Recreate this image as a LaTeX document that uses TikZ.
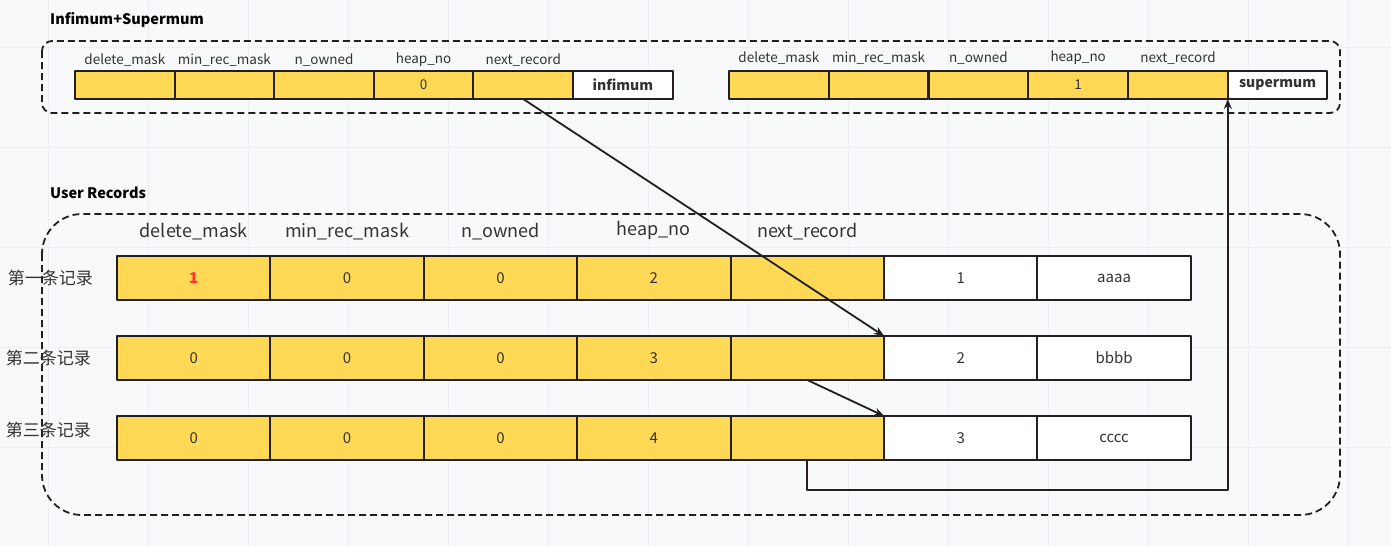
\documentclass[tikz,border=0pt]{standalone}
\usepackage{fontspec}
\setmainfont{Noto Sans CJK SC}
\usetikzlibrary{arrows.meta,positioning}
\definecolor{keyfill}{HTML}{FFD955}
\definecolor{edgec}{HTML}{231F20}
\definecolor{paper}{HTML}{F8F9FB}
\definecolor{gridc}{HTML}{ECEEF2}
\definecolor{txt}{HTML}{333333}
\definecolor{flag}{HTML}{FF3333}

\begin{document}
\begin{tikzpicture}[x=1pt,y=-1pt,line join=round,
  cell/.style={draw=edgec,line width=2pt,fill=white,inner sep=0pt,outer sep=0pt,
    anchor=north west,text=txt},
  keycell/.style={cell,fill=keyfill},
  slot/.style={minimum width=99.6pt,minimum height=28pt,font=\fontsize{13.5}{15}\selectfont},
  rowcell/.style={minimum width=153.4pt,minimum height=44pt,font=\fontsize{15}{16}\selectfont},
  fieldname/.style={text=txt,inner sep=0pt,font=\fontsize{13.5}{15}\selectfont},
  headname/.style={text=txt,inner sep=0pt,font=\fontsize{18}{20}\selectfont},
  rowname/.style={text=txt,inner sep=0pt,font=\fontsize{17}{19}\selectfont},
  title/.style={text=black,inner sep=0pt,anchor=west,font=\fontsize{14.5}{16}\selectfont\bfseries},
  group/.style={draw=edgec,line width=1.8pt,dash pattern=on 7pt off 4pt},
  link/.style={draw=edgec,line width=1.8pt,-{Stealth[length=10pt,width=8pt]}}]
  \fill[paper] (0,0) rectangle (1391,546);
  \useasboundingbox (0,0) rectangle (1391,546);
  % background grid
  \foreach \x in {48,148,...,1348} \draw[gridc,line width=1pt] (\x,0) -- (\x,546);
  \foreach \y in {47,147,...,447} \draw[gridc,line width=1pt] (0,\y) -- (1391,\y);

  % Infimum + Supermum
  \node[title] (t1) at (50,20) {Infimum+Supermum};
  \draw[group,rounded corners=10pt] (42,41) rectangle (1340,113);
  \foreach \v [count=\i] in {{},{},{},0,{}}
    \node[keycell,slot] (inf\i) at ({75+(\i-1)*99.6},71) {\v};
  \node[cell,slot,font=\fontsize{14}{16}\selectfont\bfseries] (inf6) at (inf5.north east) {infimum};
  \foreach \v [count=\i] in {{},{},{},1,{}}
    \node[keycell,slot] (sup\i) at ({729+(\i-1)*99.8},71) {\v};
  \node[cell,slot,font=\fontsize{14}{16}\selectfont\bfseries] (sup6) at (sup5.north east) {\raisebox{-2pt}{supermum}};
  \foreach \f [count=\i] in {delete\_mask,min\_rec\_mask,n\_owned,heap\_no,next\_record} {
    \node[fieldname,above=4pt of inf\i] (infl\i) {\f};
    \node[fieldname,above=6pt of sup\i] (supl\i) {\f};
  }

  % User Records
  \node[title] (t2) at (50,193) {User Records};
  \draw[group,rounded corners=40pt] (42,214) rectangle (1340,515);
  \foreach \v [count=\i] in {\textcolor{flag}{\bfseries 1},0,0,2,{}}
    \node[keycell,rowcell] (r1c\i) at ({117+(\i-1)*153.4},256) {\v};
  \node[cell,rowcell] (r1c6) at (r1c5.north east) {1};
  \node[cell,rowcell] (r1c7) at (r1c6.north east) {aaaa};
  \foreach \v [count=\i] in {0,0,0,3,{}}
    \node[keycell,rowcell] (r2c\i) at ({117+(\i-1)*153.4},336) {\v};
  \node[cell,rowcell] (r2c6) at (r2c5.north east) {2};
  \node[cell,rowcell] (r2c7) at (r2c6.north east) {bbbb};
  \foreach \v [count=\i] in {0,0,0,4,{}}
    \node[keycell,rowcell] (r3c\i) at ({117+(\i-1)*153.4},416) {\v};
  \node[cell,rowcell] (r3c6) at (r3c5.north east) {3};
  \node[cell,rowcell] (r3c7) at (r3c6.north east) {cccc};
  \foreach \f [count=\i] in {delete\_mask,min\_rec\_mask,n\_owned,heap\_no,next\_record}
    \node[headname,above=16pt of r1c\i] (h\i) {\f};
  \node[rowname,left=24pt of r1c1] (n1) {第一条记录};
  \node[rowname,left=26pt of r2c1] (n2) {第二条记录};
  \node[rowname,left=26pt of r3c1,yshift=8pt] (n3) {第三条记录};

  % next_record links
  \draw[link] (inf5.south) -- (r2c6.north west);
  \draw[link] (r2c5.south) -- (r3c6.north west);
  \draw[link] (r3c5.south) -- ++(0,30) -| (sup6.south west);
\end{tikzpicture}
\end{document}
